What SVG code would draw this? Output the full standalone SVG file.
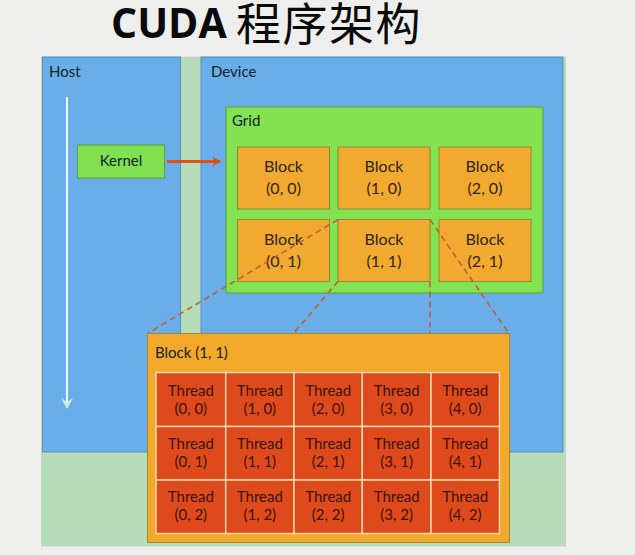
<svg xmlns="http://www.w3.org/2000/svg" width="635" height="555" viewBox="0 0 635 555">
<defs>
<style>
.lbl{font-family:Lato,"Open Sans","Liberation Sans",sans-serif;font-size:15px;fill:#14202c}
.blk rect{fill:#f2a930;stroke:#8a8a3a;stroke-width:1}
.blk text{font-family:Lato,"Open Sans","Liberation Sans",sans-serif;font-size:16px;fill:#2e2410;text-anchor:middle}
.thr rect{fill:#df4a1c;stroke:#f3d9a8;stroke-width:1.5}
.thr text{font-family:Lato,"Open Sans","Liberation Sans",sans-serif;font-size:15px;fill:#3a1408;text-anchor:middle}
.dash{stroke:#c0603a;stroke-width:1.6;stroke-dasharray:6 4;fill:none}
</style>
<marker id="ah" markerWidth="10" markerHeight="10" refX="8" refY="5" orient="auto" markerUnits="userSpaceOnUse">
<path d="M0,0 L9,5 L0,10 L3,5 Z" fill="#d9531e"/>
</marker>
<marker id="ahw" markerWidth="12" markerHeight="12" refX="6" refY="10" orient="0" markerUnits="userSpaceOnUse">
<path d="M0,0 L6,11 L12,0 L6,4 Z" fill="#c9efd2"/>
</marker>
</defs>
<rect width="635" height="555" fill="#eeeeec"/>
<g id="title" font-family="'Open Sans','Liberation Sans','Noto Sans CJK SC',sans-serif" fill="#0a0a0a">
<text x="111" y="37.5" font-size="41" font-weight="bold">CUDA</text>
<text x="236" y="40.5" font-size="45" letter-spacing="1.5">程序架构</text>
</g>
<rect id="bg" x="41.5" y="57" width="524" height="489" fill="#b6dcb9" stroke="#c9d6c9" stroke-width="1"/>
<g id="host">
<rect x="42.5" y="57" width="138" height="395" fill="#69aee8" stroke="#5d8fb8" stroke-width="1"/>
<text class="lbl" x="49" y="77">Host</text>
<line x1="67" y1="97" x2="67" y2="408" stroke="#f4fbff" stroke-width="2" marker-end="url(#ahw)"/>
</g>
<g id="device">
<rect x="201" y="57" width="362" height="395" fill="#69aee8" stroke="#5d8fb8" stroke-width="1"/>
<text class="lbl" x="211" y="77">Device</text>
</g>
<g id="kernel">
<rect x="77.5" y="145" width="87" height="33" fill="#80e04f" stroke="#5aa040" stroke-width="1"/>
<text class="lbl" x="121" y="166" text-anchor="middle">Kernel</text>
</g>
<g id="grid">
<rect x="226" y="107" width="317" height="186" fill="#82e24f" stroke="#5aa040" stroke-width="1"/>
<text class="lbl" x="232" y="126" font-size="16">Grid</text>
</g>
<g id="block00" class="blk"><rect x="237.5" y="147" width="92" height="62"/><text x="283.5" y="172">Block</text><text x="283.5" y="194">(0, 0)</text></g>
<g id="block10" class="blk"><rect x="338" y="147" width="92" height="62"/><text x="384" y="172">Block</text><text x="384" y="194">(1, 0)</text></g>
<g id="block20" class="blk"><rect x="439" y="147" width="92" height="62"/><text x="485" y="172">Block</text><text x="485" y="194">(2, 0)</text></g>
<g id="block01" class="blk"><rect x="237.5" y="219.5" width="92" height="62"/><text x="283.5" y="245">Block</text><text x="283.5" y="267">(0, 1)</text></g>
<g id="block11" class="blk"><rect x="338" y="219.5" width="92" height="62"/><text x="384" y="245">Block</text><text x="384" y="267">(1, 1)</text></g>
<g id="block21" class="blk"><rect x="439" y="219.5" width="92" height="62"/><text x="485" y="245">Block</text><text x="485" y="267">(2, 1)</text></g>
<g id="connectors">
<line x1="167" y1="161.5" x2="220" y2="161.5" stroke="#d9531e" stroke-width="3" marker-end="url(#ah)"/>
<line class="dash" x1="338" y1="219.5" x2="147.5" y2="333.5"/>
<line class="dash" x1="338" y1="281.5" x2="293.5" y2="333.5"/>
<line class="dash" x1="430" y1="219.5" x2="509" y2="333.5"/>
<line class="dash" x1="430" y1="281.5" x2="430" y2="333.5"/>
</g>
<g id="blockdetail">
<rect x="147.5" y="333.5" width="362" height="209" fill="#f2a92a" stroke="#9a8a3a" stroke-width="1"/>
<text class="lbl" x="155" y="358" font-size="16">Block (1, 1)</text>
<rect x="156" y="372.5" width="343.5" height="161" fill="#df4a1c"/>
</g>
<g id="t00" class="thr"><rect x="156" y="372.5" width="69.7" height="54"/><text x="190.8" y="396">Thread</text><text x="190.8" y="414">(0, 0)</text></g>
<g id="t10" class="thr"><rect x="225.7" y="372.5" width="68.3" height="54"/><text x="259.8" y="396">Thread</text><text x="259.8" y="414">(1, 0)</text></g>
<g id="t20" class="thr"><rect x="294" y="372.5" width="68.3" height="54"/><text x="328.2" y="396">Thread</text><text x="328.2" y="414">(2, 0)</text></g>
<g id="t30" class="thr"><rect x="362.3" y="372.5" width="68.7" height="54"/><text x="396.7" y="396">Thread</text><text x="396.7" y="414">(3, 0)</text></g>
<g id="t40" class="thr"><rect x="431" y="372.5" width="68.5" height="54"/><text x="465.2" y="396">Thread</text><text x="465.2" y="414">(4, 0)</text></g>
<g id="t01" class="thr"><rect x="156" y="426.5" width="69.7" height="53.5"/><text x="190.8" y="449">Thread</text><text x="190.8" y="467">(0, 1)</text></g>
<g id="t11" class="thr"><rect x="225.7" y="426.5" width="68.3" height="53.5"/><text x="259.8" y="449">Thread</text><text x="259.8" y="467">(1, 1)</text></g>
<g id="t21" class="thr"><rect x="294" y="426.5" width="68.3" height="53.5"/><text x="328.2" y="449">Thread</text><text x="328.2" y="467">(2, 1)</text></g>
<g id="t31" class="thr"><rect x="362.3" y="426.5" width="68.7" height="53.5"/><text x="396.7" y="449">Thread</text><text x="396.7" y="467">(3, 1)</text></g>
<g id="t41" class="thr"><rect x="431" y="426.5" width="68.5" height="53.5"/><text x="465.2" y="449">Thread</text><text x="465.2" y="467">(4, 1)</text></g>
<g id="t02" class="thr"><rect x="156" y="480" width="69.7" height="53.5"/><text x="190.8" y="502">Thread</text><text x="190.8" y="520">(0, 2)</text></g>
<g id="t12" class="thr"><rect x="225.7" y="480" width="68.3" height="53.5"/><text x="259.8" y="502">Thread</text><text x="259.8" y="520">(1, 2)</text></g>
<g id="t22" class="thr"><rect x="294" y="480" width="68.3" height="53.5"/><text x="328.2" y="502">Thread</text><text x="328.2" y="520">(2, 2)</text></g>
<g id="t32" class="thr"><rect x="362.3" y="480" width="68.7" height="53.5"/><text x="396.7" y="502">Thread</text><text x="396.7" y="520">(3, 2)</text></g>
<g id="t42" class="thr"><rect x="431" y="480" width="68.5" height="53.5"/><text x="465.2" y="502">Thread</text><text x="465.2" y="520">(4, 2)</text></g>
</svg>
